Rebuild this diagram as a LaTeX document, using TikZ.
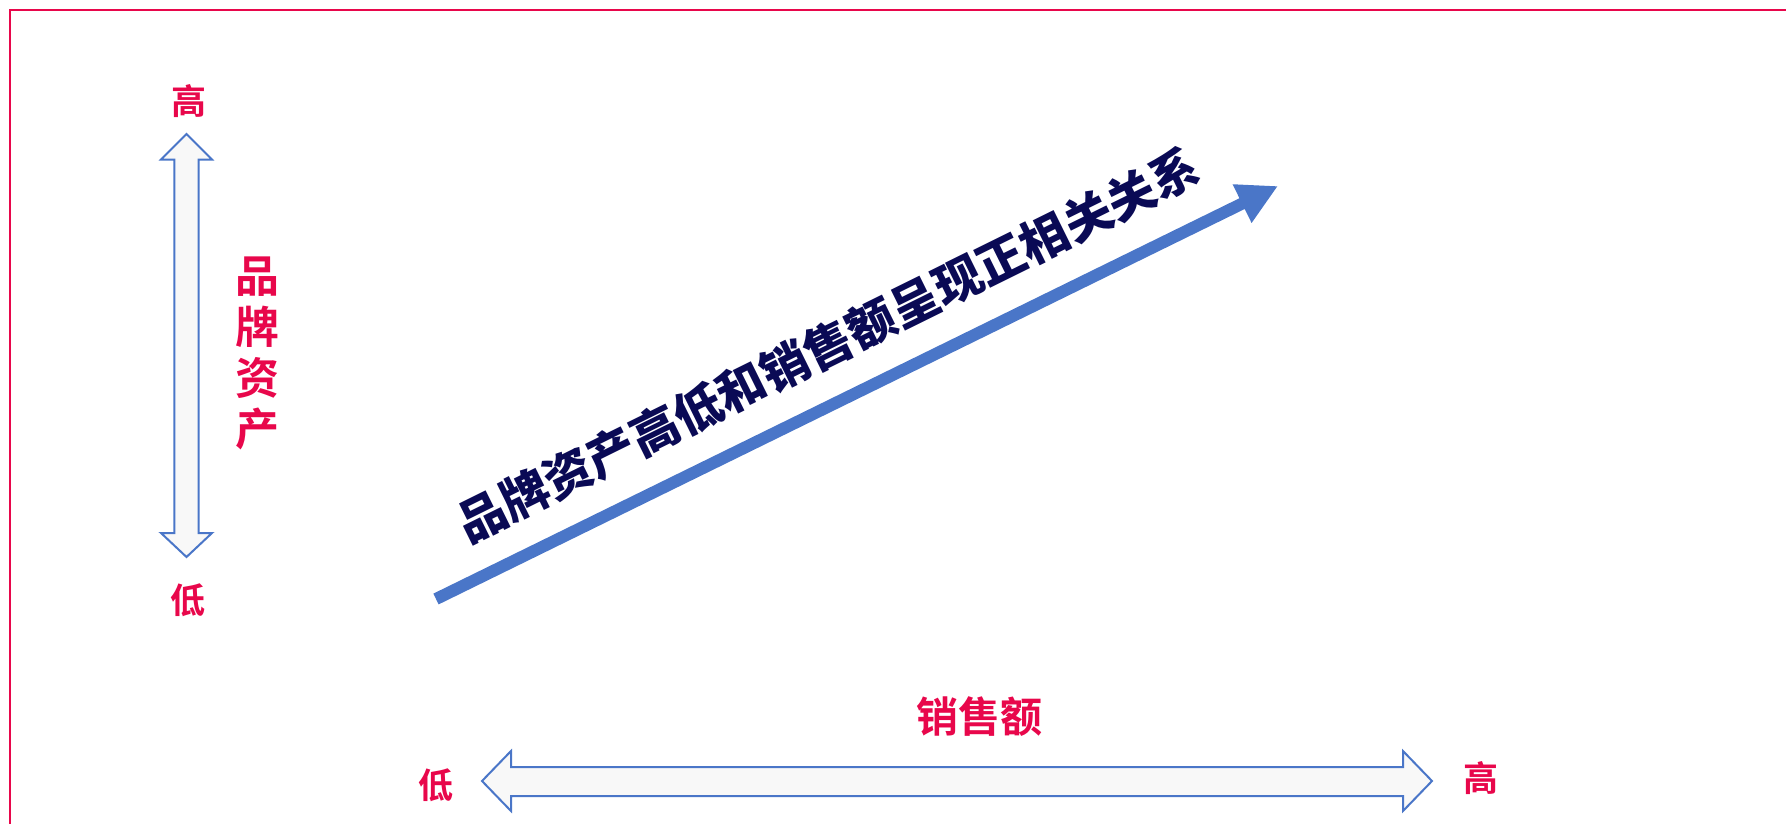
\documentclass[tikz,border=0pt]{standalone}
\usepackage{fontspec}
\newfontfamily\cjk{Noto Sans CJK SC}[BoldFont={Noto Sans CJK SC Bold}]
\newfontfamily\cjkblack{Noto Sans CJK SC Black}
\usetikzlibrary{arrows.meta}
\definecolor{bred}{HTML}{E8074B}
\definecolor{oblue}{HTML}{4A76C8}
\definecolor{navy}{HTML}{0A0A55}
\definecolor{pale}{HTML}{F8F8F8}
\tikzset{
  redlbl/.style={text=bred,font=\cjk\bfseries\fontsize{35}{38}\selectfont,inner sep=0pt},
  axlbl/.style={text=bred,font=\cjk\bfseries\fontsize{42}{46}\selectfont,inner sep=0pt},
  dblarrow/.style={draw=oblue,fill=pale,line width=2pt,line join=miter},
  mainarrow/.style={draw=oblue,line width=12pt,-{Triangle[length=40pt,width=40pt]}},
  slogan/.style={text=navy,font=\cjkblack\fontsize{48.3}{52}\selectfont,inner sep=0pt}
}
\begin{document}
\begin{tikzpicture}[x=1pt,y=-1pt]
\useasboundingbox (0,0) rectangle (1786,823);
% border
\draw[bred,line width=2.5pt] (10,830) -- (10,10) -- (1795,10);
% vertical double arrow
\draw[dblarrow] (186.5,134) -- (212,159.5) -- (198.7,159.5) -- (198.7,533) -- (212,533)
  -- (186.5,557) -- (161,533) -- (174.3,533) -- (174.3,159.5) -- (161,159.5) -- cycle;
% horizontal double arrow
\draw[dblarrow] (482,781) -- (511,751) -- (511,767) -- (1403,767) -- (1403,751)
  -- (1432,781) -- (1403,811) -- (1403,796) -- (511,796) -- (511,811) -- cycle;
% labels
\node[redlbl] (vhigh) at (188.5,101) {高};
\node[redlbl] (vlow) at (188,600) {低};
\node[redlbl] (hlow) at (435.5,785) {低};
\node[redlbl] (hhigh) at (1481,778) {高};
\node[axlbl,align=center,font=\cjk\bfseries\fontsize{44}{51}\selectfont] (brand) at (257,353) {品\\牌\\资\\产};
\node[axlbl] (sales) at (979,717) {销售额};
% main arrow
\coordinate (a0) at (436,599);
\coordinate (a1) at (1278,186);
\draw[mainarrow] (a0) -- (a1);
\node[slogan,rotate=26.3] (msg) at (828,345) {品牌资产高低和销售额呈现正相关关系};
\end{tikzpicture}
\end{document}
